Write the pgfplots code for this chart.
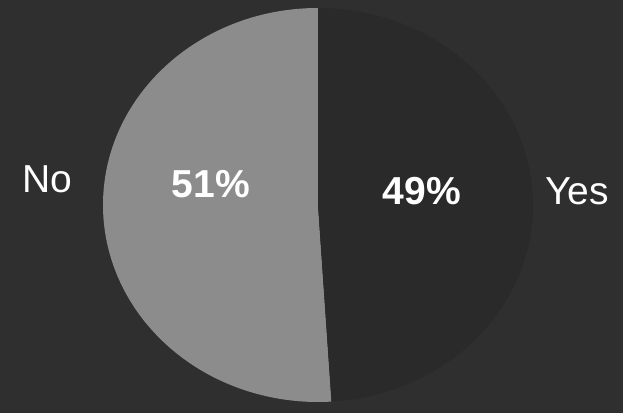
\documentclass[border=0pt]{standalone}
\usepackage{pgfplots}
\usepackage{pgfplotstable}
\pgfplotsset{compat=1.18}
\usepackage{fontspec}
\setmainfont{Liberation Sans}

\definecolor{bgcol}{gray}{0.185}
\definecolor{nocol}{gray}{0.55}
\definecolor{yescol}{gray}{0.165}

% share of answers, in percent
\pgfplotstableread{
label value
No 51
Yes 49
}\piedata

\begin{document}
\begin{tikzpicture}
\pgfplotstablegetelem{0}{value}\of\piedata \let\vNo\pgfplotsretval
\pgfplotstablegetelem{1}{value}\of\piedata \let\vYes\pgfplotsretval
\pgfmathsetmacro{\aStart}{90}
\pgfmathsetmacro{\aMid}{\aStart+3.6*\vNo}
\pgfmathsetmacro{\aEnd}{\aMid+3.6*\vYes}
\begin{axis}[
  width=623bp, height=413bp, scale only axis,
  xmin=0, xmax=623, ymin=0, ymax=413,
  hide axis, clip=true,
]
% background
\fill[bgcol] (axis cs:0,0) rectangle (axis cs:623,413);
% slices, counter-clockwise from the top
\fill[nocol] (axis cs:318,208) -- ++({215bp*cos(\aStart)},{197bp*sin(\aStart)})
  arc[start angle=\aStart, end angle=\aMid, x radius=215bp, y radius=197bp] -- cycle;
\fill[yescol] (axis cs:318,208) -- ++({215bp*cos(\aMid)},{197bp*sin(\aMid)})
  arc[start angle=\aMid, end angle=\aEnd, x radius=215bp, y radius=197bp] -- cycle;
% labels
\node[anchor=base, text=white, font=\fontsize{39bp}{47bp}\selectfont] at (axis cs:47,220) {No};
\node[anchor=base, text=white, font=\fontsize{39bp}{47bp}\selectfont\bfseries] at (axis cs:211,215) {\vNo\%};
\node[anchor=base, text=white, font=\fontsize{39bp}{47bp}\selectfont\bfseries] at (axis cs:422,208) {\vYes\%};
\node[anchor=base, text=white, font=\fontsize{39bp}{47bp}\selectfont] at (axis cs:577,208) {Yes};
\end{axis}
\end{tikzpicture}
\end{document}
